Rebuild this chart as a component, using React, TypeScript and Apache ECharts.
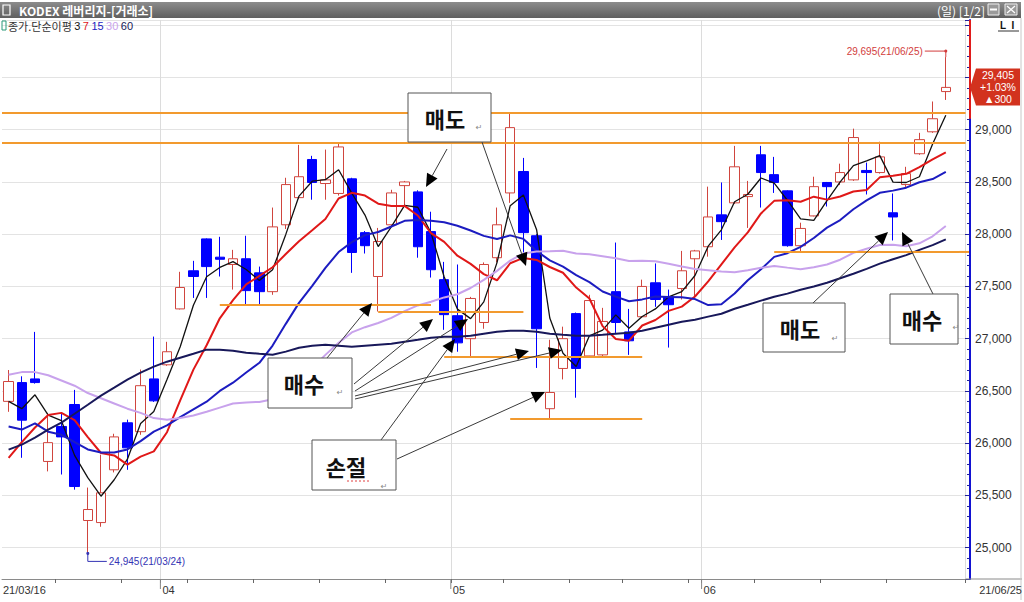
import React, { useEffect, useRef } from 'react';
import * as echarts from 'echarts';

// Trading days shown on the chart
const dates = [
  '21/03/16', '21/03/17', '21/03/18', '21/03/19', '21/03/22', '21/03/23', '21/03/24', '21/03/25', '21/03/26', '21/03/29', '21/03/30', '21/03/31',
  '21/04/01', '21/04/02', '21/04/05', '21/04/06', '21/04/07', '21/04/08', '21/04/09', '21/04/12', '21/04/13', '21/04/14', '21/04/15', '21/04/16',
  '21/04/19', '21/04/20', '21/04/21', '21/04/22', '21/04/23', '21/04/26', '21/04/27', '21/04/28', '21/04/29', '21/04/30',
  '21/05/03', '21/05/04', '21/05/06', '21/05/07', '21/05/10', '21/05/11', '21/05/12', '21/05/13', '21/05/14', '21/05/17', '21/05/18', '21/05/20',
  '21/05/21', '21/05/24', '21/05/25', '21/05/26', '21/05/27', '21/05/28', '21/05/31',
  '21/06/01', '21/06/02', '21/06/03', '21/06/04', '21/06/07', '21/06/08', '21/06/09', '21/06/10', '21/06/11', '21/06/14', '21/06/15', '21/06/16',
  '21/06/17', '21/06/18', '21/06/21', '21/06/22', '21/06/23', '21/06/24', '21/06/25',
];

const opens = [
  26400, 26580, 26615, 25825, 26160, 26370, 25260, 25240, 25745, 26195, 26110, 26615,
  26750, 27285, 27650, 27955, 27780, 27710, 27765, 27630, 27450, 28090, 28350, 28715,
  28485, 28390, 28530, 28015, 27595, 28090, 28465, 28405, 28025, 27565,
  27220, 27000, 27155, 27775, 28395, 28600, 27985, 26330, 26715, 27240, 26835, 26845,
  27450, 27065, 27210, 27535, 27400, 27480, 27765,
  27880, 28185, 28300, 28360, 28760, 28570, 28415, 27890, 28175, 28495, 28500, 28520,
  28610, 28590, 28205, 28475, 28770, 28980, 29365,
];
const closes = [
  26590, 26220, 26580, 26005, 26060, 25585, 25365, 25525, 26060, 25955, 26550, 26405,
  26875, 27490, 27595, 27690, 27760, 27765, 27460, 27450, 28070, 28475, 28550, 28495,
  28520, 28835, 27825, 27890, 27930, 28395, 28500, 27880, 27660, 27230,
  26960, 27385, 27710, 28090, 29020, 28015, 27095, 26485, 27000, 26715, 27365, 27165,
  27155, 26980, 27500, 27375, 27325, 27650, 27840,
  28165, 28120, 28645, 28380, 28590, 28495, 27890, 28055, 28455, 28455, 28590, 28925,
  28590, 28740, 28165, 28580, 28905, 29105, 29405,
];
const lows = [
  26300, 25860, 26570, 25730, 25700, 25555, 24945, 25200, 25720, 25745, 26080, 26395,
  26740, 27280, 27390, 27390, 27595, 27470, 27325, 27325, 27420, 28050, 28340, 28330,
  28330, 28370, 27630, 27815, 27260, 28080, 28265, 27775, 27585, 27085,
  26875, 26830, 27095, 27730, 28300, 27825, 26720, 26235, 26610, 26435, 26830, 26830,
  27055, 26845, 27200, 27305, 26915, 27375, 27390,
  27785, 27945, 28290, 28060, 28255, 28395, 27880, 27830, 28170, 28265, 28470, 28510,
  28380, 28580, 27940, 28445, 28760, 28970, 29285,
];
const highs = [
  26700, 26640, 27065, 26290, 26280, 26510, 25575, 25890, 26090, 26225, 26705, 27020,
  26970, 27640, 27745, 27960, 27975, 27850, 27985, 27690, 28255, 28540, 28855, 28750,
  28810, 28875, 28540, 28030, 28060, 28425, 28510, 28420, 28215, 27735,
  27710, 27400, 27730, 28255, 29165, 28730, 28000, 26990, 27115, 27250, 27420, 27295,
  27920, 27285, 27565, 27720, 27470, 27840, 27850,
  28455, 28495, 28845, 28510, 28845, 28740, 28420, 28110, 28550, 28500, 28675, 29010,
  28685, 28885, 28390, 28645, 28970, 29270, 29695,
];

// Simple moving averages of the close (3, 7, 15, 30, 60 days)
const ma3 = [
  26400, 26330, 26463, 26268, 26215, 25883, 25670, 25492, 25650, 25847, 26188, 26303,
  26610, 26923, 27320, 27592, 27682, 27738, 27662, 27558, 27660, 27998, 28365, 28507,
  28522, 28617, 28393, 28183, 27882, 28072, 28275, 28258, 28013, 27590,
  27283, 27192, 27352, 27728, 28273, 28375, 28043, 27198, 26860, 26733, 27027, 27082,
  27228, 27100, 27212, 27285, 27400, 27450, 27605,
  27885, 28042, 28310, 28382, 28538, 28488, 28325, 28147, 28133, 28322, 28500, 28657,
  28702, 28752, 28498, 28495, 28550, 28863, 29138,
];
const ma7 = [
  25860, 26010, 26150, 26270, 26290, 26220, 26058, 25906, 25883, 25794, 25871, 25921,
  26105, 26409, 26704, 26937, 27195, 27369, 27519, 27601, 27684, 27810, 27933, 28038,
  28146, 28342, 28396, 28370, 28292, 28270, 28271, 28179, 28011, 27926,
  27794, 27716, 27618, 27559, 27722, 27773, 27754, 27686, 27631, 27489, 27385, 27120,
  26997, 26981, 27126, 27179, 27266, 27307, 27404,
  27548, 27711, 27874, 28018, 28199, 28319, 28326, 28311, 28359, 28331, 28361, 28409,
  28423, 28544, 28560, 28578, 28642, 28716, 28784,
];
const ma15 = [
  26160, 26130, 26190, 26110, 26080, 26010, 25940, 25910, 25910, 25940, 26020, 26110,
  26170, 26250, 26324, 26397, 26500, 26579, 26676, 26769, 26934, 27142, 27343, 27506,
  27677, 27829, 27924, 27991, 28021, 28074, 28128, 28136, 28129, 28114,
  28081, 28035, 27984, 27954, 27989, 27955, 27839, 27750, 27690, 27609, 27541, 27452,
  27403, 27358, 27376, 27404, 27400, 27396, 27379,
  27322, 27329, 27432, 27559, 27665, 27783, 27818, 27878, 27964, 28063, 28135, 28239,
  28323, 28396, 28417, 28445, 28497, 28528, 28596,
];
const ma30 = [
  26655, 26680, 26680, 26650, 26600, 26550, 26480, 26430, 26380, 26330, 26290, 26240,
  26225, 26240, 26265, 26300, 26340, 26380, 26390, 26395, 26420, 26510, 26625, 26720,
  26845, 26960, 27060, 27110, 27150, 27199, 27263, 27318, 27354, 27395,
  27425, 27485, 27563, 27649, 27747, 27816, 27834, 27837, 27841, 27815, 27807, 27790,
  27770, 27744, 27745, 27742, 27718, 27690, 27666,
  27655, 27642, 27636, 27654, 27678, 27696, 27680, 27665, 27684, 27710, 27756, 27821,
  27861, 27896, 27898, 27884, 27913, 27980, 28078,
];
const ma60 = [
  25938, 25986, 26053, 26130, 26196, 26282, 26368, 26455, 26531, 26608, 26675, 26732,
  26780, 26818, 26856, 26895, 26895, 26885, 26866, 26856, 26847, 26876, 26914, 26933,
  26943, 26933, 26923, 26933, 26943, 26952, 26971, 26990, 27010, 27019,
  27019, 27029, 27048, 27067, 27076, 27076, 27067, 27048, 27038, 27029, 27029, 27038,
  27048, 27057, 27076, 27105, 27134, 27163, 27182,
  27211, 27239, 27287, 27325, 27364, 27402, 27431, 27469, 27500, 27536, 27578, 27622,
  27668, 27718, 27760, 27800, 27850, 27895, 27950,
];

// Support / resistance levels (price, first and last candle index; null = full width)
const levelValues = [29165, 28875, 27320, 27260, 26830, 26235, 27830];
const levelFrom = [null, null, 16, 28, 33, 38, 58];
const levelTo = [null, null, 32, 39, 48, 48, 72];

const maPeriods = ['3', '7', '15', '30', '60'];

const GRID_LEFT = 2;
const GRID_TOP = 20;
const GRID_H = 559;
const CAT_W = 13.2;
const AXIS_X = 970;
const FONT_NUM = '"Liberation Sans", Arial, sans-serif';
const FONT_KR = '"Noto Sans CJK KR", sans-serif';

const fmt = (v: number) => v.toLocaleString('en-US');

function arrow(x1: number, y1: number, x2: number, y2: number) {
  const dx = x2 - x1;
  const dy = y2 - y1;
  const len = Math.hypot(dx, dy);
  const ux = dx / len;
  const uy = dy / len;
  const bx = x2 - ux * 13;
  const by = y2 - uy * 13;
  const nx = -uy * 6;
  const ny = ux * 6;
  return [
    { type: 'line', z: 60, shape: { x1, y1, x2: bx, y2: by }, style: { stroke: '#3a3a3a', lineWidth: 1 } },
    { type: 'polygon', z: 60, shape: { points: [[x2, y2], [bx + nx, by + ny], [bx - nx, by - ny]] }, style: { fill: '#000' } },
  ];
}

function box(x: number, y: number, w: number, h: number, label: string, tx: number, ty: number, rx: number, ry: number) {
  return [
    { type: 'rect', z: 61, shape: { x, y, width: w, height: h }, style: { fill: '#fff', stroke: '#555', lineWidth: 1 } },
    {
      type: 'text', z: 62, x: tx, y: ty,
      style: { text: label, fontFamily: FONT_KR, fontWeight: 'bold', fontSize: 22, fill: '#111', align: 'center', verticalAlign: 'middle' },
    },
    {
      type: 'text', z: 62, x: rx, y: ry,
      style: { text: '↵', fontFamily: '"DejaVu Sans", sans-serif', fontSize: 8, fill: '#888', align: 'center', verticalAlign: 'middle' },
    },
  ];
}

export default function App() {
  const ref = useRef<HTMLDivElement>(null);

  useEffect(() => {
    document.body.style.margin = '0';
    const el = ref.current;
    if (!el) return;
    const chart = echarts.init(el, null, { renderer: 'svg' });

    const categories = [...dates, ''];
    const ohlc = dates.map((_, i) => [opens[i], closes[i], lows[i], highs[i]]);
    const last = closes.length - 1;

    const monthStarts: number[] = [];
    dates.forEach((d, i) => {
      if (i > 0 && d.slice(3, 5) !== dates[i - 1].slice(3, 5)) monthStarts.push(i);
    });
    const weekStarts: number[] = [];
    dates.forEach((d, i) => {
      const [yy, mm, dd] = d.split('/').map(Number);
      if (i > 0 && new Date(2000 + yy, mm - 1, dd).getDay() === 1) weekStarts.push(i);
    });

    const gridW = categories.length * CAT_W;

    const levelData: any[] = levelValues.map((v, k) =>
      levelFrom[k] === null
        ? { yAxis: v }
        : [{ coord: [levelFrom[k], v] }, { coord: [levelTo[k], v] }]
    );

    const maColors = ['#111111', '#e01818', '#1c1cc0', '#c8a2ec', '#18185a'];
    const maWidths = [1.3, 2, 2, 2, 2];
    const maData = [ma3, ma7, ma15, ma30, ma60];

    chart.setOption({
      animation: false,
      backgroundColor: '#ffffff',
      grid: { left: GRID_LEFT, top: GRID_TOP, width: gridW, height: GRID_H },
      xAxis: {
        type: 'category',
        data: categories,
        boundaryGap: true,
        axisLine: { lineStyle: { color: '#8a8a8a', width: 1 } },
        axisTick: {
          show: true,
          length: 4,
          interval: (i: number) => weekStarts.includes(i) || monthStarts.includes(i),
          lineStyle: { color: '#666' },
        },
        axisLabel: { show: false },
        splitLine: {
          show: true,
          interval: (i: number) => monthStarts.includes(i),
          lineStyle: { color: '#dcdcdc', width: 1 },
        },
      },
      yAxis: {
        type: 'value',
        position: 'right',
        min: 24700,
        max: 30050,
        splitNumber: 10,
        offset: AXIS_X - (GRID_LEFT + gridW),
        axisLine: { show: true, lineStyle: { color: '#1212d2', width: 2 } },
        axisTick: { show: true, inside: true, length: 5, lineStyle: { color: '#2020a0' } },
        minorTick: { show: true, splitNumber: 5, length: 3, lineStyle: { color: '#2020a0' } },
        axisLabel: {
          margin: 5,
          color: '#333',
          fontSize: 12,
          fontFamily: FONT_NUM,
          showMinLabel: false,
          showMaxLabel: false,
          // labels hidden behind the current price tag are left out
          formatter: (v: number) =>
            v % 500 === 0 && v < 30000 && Math.abs(v - closes[last]) > 200 ? fmt(v) : '',
        },
        splitLine: { lineStyle: { color: '#e3e3e3', width: 1 } },
      },
      series: [
        {
          type: 'candlestick',
          data: ohlc,
          barWidth: 10,
          itemStyle: {
            color: '#ffffff',
            color0: '#0000ff',
            borderColor: '#d0453e',
            borderColor0: '#0000ff',
            borderWidth: 1,
          },
          markLine: {
            silent: true,
            symbol: ['none', 'none'],
            label: { show: false },
            lineStyle: { color: '#f29a2e', width: 2, type: 'solid' },
            data: levelData,
          },
        },
        ...maData.map((d, k) => ({
          type: 'line',
          name: maPeriods[k],
          data: d,
          symbol: 'none',
          showSymbol: false,
          lineStyle: { color: maColors[k], width: maWidths[k] },
          z: 3,
        })),
      ],
    });

    const px = (i: number, v: number) => chart.convertToPixel({ seriesIndex: 0 }, [i, v]) as number[];
    const band = px(1, 0)[0] - px(0, 0)[0];
    const boundary = (i: number) => px(i, 0)[0] - band / 2;

    const g: any[] = [];

    // window title bar
    g.push({
      type: 'rect', z: 50, shape: { x: 0, y: 2, width: 1021, height: 16 },
      style: {
        fill: new echarts.graphic.LinearGradient(0, 0, 0, 1, [
          { offset: 0, color: '#8c8c8c' },
          { offset: 1, color: '#5f5f5f' },
        ]),
      },
    });
    g.push({ type: 'rect', z: 51, shape: { x: 3, y: 5, width: 7, height: 10 }, style: { fill: 'none', stroke: '#fff', lineWidth: 1.2 } });
    g.push({
      type: 'text', z: 51, x: 19, y: 10,
      style: { text: 'KODEX 레버리지-[거래소]', fill: '#fff', fontFamily: FONT_KR, fontSize: 12, fontWeight: 'bold', verticalAlign: 'middle' },
    });
    g.push({
      type: 'text', z: 51, x: 985, y: 10,
      style: { text: '(일) [1/2]', fill: '#fff', fontFamily: FONT_KR, fontSize: 12, align: 'right', verticalAlign: 'middle' },
    });
    g.push({ type: 'rect', z: 51, shape: { x: 988, y: 4, width: 11, height: 11 }, style: { fill: '#9a9a9a', stroke: '#eee', lineWidth: 1 } });
    g.push({ type: 'line', z: 52, shape: { x1: 990, y1: 9.5, x2: 997, y2: 9.5 }, style: { stroke: '#fff', lineWidth: 2 } });
    g.push({ type: 'rect', z: 51, shape: { x: 1005, y: 4, width: 12, height: 11 }, style: { fill: '#9a9a9a', stroke: '#eee', lineWidth: 1 } });
    g.push({ type: 'line', z: 52, shape: { x1: 1007, y1: 6, x2: 1015, y2: 13 }, style: { stroke: '#fff', lineWidth: 1.2 } });
    g.push({ type: 'line', z: 52, shape: { x1: 1015, y1: 6, x2: 1007, y2: 13 }, style: { stroke: '#fff', lineWidth: 1.2 } });

    // small view buttons at top right
    g.push({ type: 'text', z: 51, x: 1003, y: 25, style: { text: 'L', fill: '#111', fontFamily: FONT_NUM, fontSize: 10, fontWeight: 'bold', align: 'center', verticalAlign: 'middle' } });
    g.push({ type: 'text', z: 51, x: 1013, y: 25, style: { text: 'I', fill: '#111', fontFamily: FONT_NUM, fontSize: 10, fontWeight: 'bold', align: 'center', verticalAlign: 'middle' } });
    g.push({ type: 'line', z: 51, shape: { x1: 998, y1: 31, x2: 1019, y2: 31 }, style: { stroke: '#333', lineWidth: 1 } });

    // indicator legend
    g.push({ type: 'rect', z: 51, shape: { x: 2, y: 21, width: 4, height: 9 }, style: { fill: 'none', stroke: '#2a9a7a', lineWidth: 1 } });
    g.push({
      type: 'text', z: 51, x: 8, y: 26,
      style: {
        text: `{t|종가.단순이평} {a|${maPeriods[0]}} {b|${maPeriods[1]}} {c|${maPeriods[2]}} {d|${maPeriods[3]}} {e|${maPeriods[4]}}`,
        fontSize: 11, fontFamily: FONT_KR, verticalAlign: 'middle',
        rich: {
          t: { fill: '#333', fontSize: 11, fontFamily: FONT_KR },
          a: { fill: maColors[0], fontSize: 11, fontFamily: FONT_NUM },
          b: { fill: maColors[1], fontSize: 11, fontFamily: FONT_NUM },
          c: { fill: maColors[2], fontSize: 11, fontFamily: FONT_NUM },
          d: { fill: maColors[3], fontSize: 11, fontFamily: FONT_NUM },
          e: { fill: maColors[4], fontSize: 11, fontFamily: FONT_NUM },
        },
      },
    });

    // price axis: red above the previous close
    const prevY = px(last, closes[last - 1])[1];
    g.push({ type: 'line', z: 40, shape: { x1: AXIS_X, y1: GRID_TOP, x2: AXIS_X, y2: prevY }, style: { stroke: '#e01c1c', lineWidth: 2 } });

    // current price tag
    const curY = px(last, closes[last])[1];
    const diff = closes[last] - closes[last - 1];
    const pct = ((diff / closes[last - 1]) * 100).toFixed(2);
    g.push({
      type: 'polygon', z: 45,
      shape: { points: [[AXIS_X, curY], [AXIS_X + 6, curY - 19], [1020, curY - 19], [1020, curY + 18], [AXIS_X + 6, curY + 18]] },
      style: { fill: '#d2321e' },
    });
    [fmt(closes[last]), `${diff >= 0 ? '+' : ''}${pct}%`, `▲${fmt(diff)}`].forEach((t, k) => {
      g.push({
        type: 'text', z: 46, x: 998, y: curY - 12 + k * 12,
        style: { text: t, fill: '#fff', fontFamily: FONT_NUM, fontSize: 10.5, align: 'center', verticalAlign: 'middle' },
      });
    });

    // highest high marker
    let hiIdx = 0;
    highs.forEach((h, i) => { if (h > highs[hiIdx]) hiIdx = i; });
    const [hx, hy] = px(hiIdx, highs[hiIdx]);
    g.push({ type: 'polyline', z: 44, shape: { points: [[hx - 21, hy - 6], [hx, hy - 6], [hx, hy]] }, style: { stroke: '#d23c3c', lineWidth: 1, fill: 'none' } });
    g.push({ type: 'circle', z: 44, shape: { cx: hx, cy: hy - 6, r: 1.5 }, style: { fill: '#d23c3c' } });
    g.push({
      type: 'text', z: 44, x: hx - 23, y: hy - 6,
      style: { text: `${fmt(highs[hiIdx])}(${dates[hiIdx]})`, fill: '#d23c3c', fontFamily: FONT_NUM, fontSize: 10, align: 'right', verticalAlign: 'middle' },
    });

    // lowest low marker
    let loIdx = 0;
    lows.forEach((l, i) => { if (l < lows[loIdx]) loIdx = i; });
    const [lx, ly] = px(loIdx, lows[loIdx]);
    g.push({ type: 'polyline', z: 44, shape: { points: [[lx, ly], [lx, ly + 8], [lx + 19, ly + 8]] }, style: { stroke: '#3434b4', lineWidth: 1, fill: 'none' } });
    g.push({ type: 'circle', z: 44, shape: { cx: lx, cy: ly, r: 1.5 }, style: { fill: '#3434b4' } });
    g.push({
      type: 'text', z: 44, x: lx + 21, y: ly + 8,
      style: { text: `${fmt(lows[loIdx])}(${dates[loIdx]})`, fill: '#3434b4', fontFamily: FONT_NUM, fontSize: 10, verticalAlign: 'middle' },
    });

    // date labels under the axis
    const axisY = GRID_TOP + GRID_H;
    g.push({
      type: 'text', z: 44, x: boundary(0) + 1, y: axisY + 11,
      style: { text: dates[0], fill: '#333', fontFamily: FONT_NUM, fontSize: 11, verticalAlign: 'middle' },
    });
    monthStarts.forEach((i) => {
      g.push({ type: 'line', z: 44, shape: { x1: boundary(i), y1: axisY, x2: boundary(i), y2: axisY + 10 }, style: { stroke: '#888', lineWidth: 1 } });
      g.push({
        type: 'text', z: 44, x: boundary(i) + 2, y: axisY + 11,
        style: { text: dates[i].slice(3, 5), fill: '#333', fontFamily: FONT_NUM, fontSize: 11, verticalAlign: 'middle' },
      });
    });
    g.push({
      type: 'text', z: 44, x: 1022, y: axisY + 11,
      style: { text: dates[last], fill: '#333', fontFamily: FONT_NUM, fontSize: 11, align: 'right', verticalAlign: 'middle' },
    });
    g.push({ type: 'line', z: 30, shape: { x1: GRID_LEFT + gridW, y1: axisY, x2: 1022, y2: axisY }, style: { stroke: '#8a8a8a', lineWidth: 1 } });
    g.push({ type: 'line', z: 30, shape: { x1: 1021, y1: 18, x2: 1021, y2: 600 }, style: { stroke: '#c8c8c8', lineWidth: 1 } });

    // the last support line runs on to the price axis
    const lastLevel = levelValues.length - 1;
    const lvY = px(0, levelValues[lastLevel])[1];
    g.push({
      type: 'line', z: 5,
      shape: { x1: px(levelTo[lastLevel] as number, 0)[0], y1: lvY, x2: AXIS_X - 1, y2: lvY },
      style: { stroke: '#f29a2e', lineWidth: 2 },
    });

    // trade annotations
    g.push(...box(408, 93, 83, 49, '매도', 445, 118, 479, 127));
    g.push(...arrow(447, 149, 426, 187));
    g.push(...arrow(482, 142, 526, 266));

    g.push(...box(268, 358, 84, 50, '매수', 304, 383, 340, 392));
    g.push(...arrow(327, 358, 372, 303));
    g.push(...arrow(354, 384, 433, 319));
    g.push(...arrow(355, 391, 468, 319));
    g.push(...arrow(355, 396, 529, 351));
    g.push(...arrow(355, 399, 562, 350));

    g.push(...box(312, 440, 84, 50, '손절', 346, 466, 384, 486));
    g.push({ type: 'line', z: 63, shape: { x1: 347, y1: 481, x2: 371, y2: 481 }, style: { stroke: '#e04040', lineWidth: 1, lineDash: [2, 2] } });
    g.push(...arrow(381, 440, 455, 339));
    g.push(...arrow(397, 459, 545, 392));

    g.push(...box(763, 303, 82, 49, '매도', 800, 328, 835, 338));
    g.push(...arrow(813, 303, 888, 232));

    g.push(...box(890, 294, 68, 50, '매수', 922, 319, 956, 327));
    g.push(...arrow(933, 294, 902, 232));

    chart.setOption({ graphic: g });

    return () => chart.dispose();
  }, []);

  return <div ref={ref} style={{ width: 1024, height: 602 }} />;
}
